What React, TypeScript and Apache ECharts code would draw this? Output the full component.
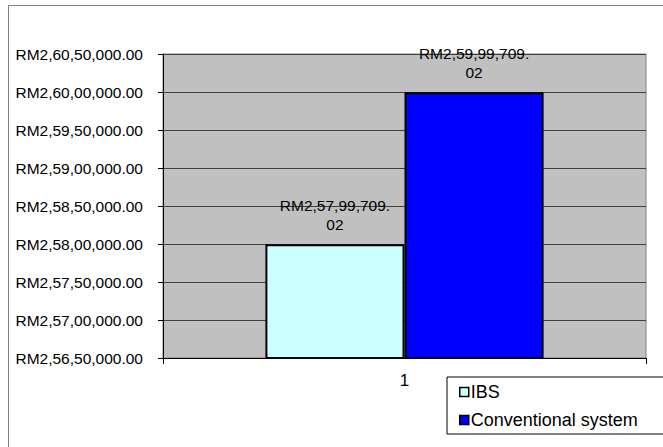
import React, { useEffect, useRef } from "react";
import * as echarts from "echarts";

const categories = ["1"];
const seriesNames = ["IBS", "Conventional system"];
const ibsValues = [25799709.02];
const conventionalValues = [25999709.02];
const yMin = 25650000;
const yMax = 26050000;
const yInterval = 50000;

function indianFormat(v: number): string {
  const fixed = v.toFixed(2);
  const [intPart, dec] = fixed.split(".");
  let out = "";
  if (intPart.length <= 3) {
    out = intPart;
  } else {
    const last3 = intPart.slice(-3);
    let rest = intPart.slice(0, -3);
    const groups: string[] = [];
    while (rest.length > 2) {
      groups.unshift(rest.slice(-2));
      rest = rest.slice(0, -2);
    }
    if (rest.length) groups.unshift(rest);
    out = groups.join(",") + "," + last3;
  }
  return "RM" + out + "." + dec;
}

function labelFormat(v: number): string {
  const s = indianFormat(v);
  const i = s.lastIndexOf(".");
  return s.slice(0, i + 1) + "\n" + s.slice(i + 1);
}

const FONT = "Liberation Sans, Arial, sans-serif";

export default function App() {
  const ref = useRef<HTMLDivElement>(null);
  useEffect(() => {
    if (!ref.current) return;
    const chart = echarts.init(ref.current, undefined, { renderer: "svg" });
    const labelCfg = {
      show: true,
      position: "top" as const,
      distance: 10,
      color: "#000",
      fontFamily: FONT,
      fontSize: 15.5,
      lineHeight: 19,
      align: "center" as const,
      formatter: (p: any) => labelFormat(p.value),
    };
    chart.setOption({
      animation: false,
      backgroundColor: "#fff",
      textStyle: { fontFamily: FONT },
      graphic: [
        {
          type: "rect",
          shape: { x: 8.5, y: 5.5, width: 800, height: 600 },
          style: { fill: "none", stroke: "#808080", lineWidth: 1 },
          z: -10,
          silent: true,
        },
      ],
      grid: {
        left: 163,
        right: 17,
        top: 54,
        bottom: 89,
        show: true,
        backgroundColor: "#C0C0C0",
        borderColor: "#808080",
        borderWidth: 1,
      },
      legend: {
        orient: "vertical",
        left: 447,
        top: 377,
        data: seriesNames,
        backgroundColor: "#fff",
        borderColor: "#000",
        borderWidth: 1,
        borderRadius: 0,
        padding: [6, 60, 5, 12],
        itemWidth: 9,
        itemHeight: 9,
        itemGap: 10,
        icon: "rect",
        itemStyle: { borderColor: "#000", borderWidth: 1.5 },
        textStyle: { fontFamily: FONT, fontSize: 18, color: "#000", padding: [0, 0, 0, -3] },
      },
      xAxis: {
        type: "category",
        data: categories,
        axisLine: { show: true, lineStyle: { color: "#000", width: 1 } },
        axisTick: { show: true, length: 6, alignWithLabel: false, lineStyle: { color: "#000" } },
        axisLabel: { color: "#000", fontFamily: FONT, fontSize: 17, margin: 14 },
        splitLine: { show: false },
      },
      yAxis: {
        type: "value",
        min: yMin,
        max: yMax,
        interval: yInterval,
        axisLine: { show: true, lineStyle: { color: "#000", width: 1 } },
        axisTick: { show: true, length: 5, lineStyle: { color: "#000" } },
        axisLabel: {
          color: "#000",
          fontFamily: FONT,
          fontSize: 15.5,
          margin: 20,
          formatter: (v: number) => indianFormat(v),
        },
        splitLine: { show: true, lineStyle: { color: "#404040", width: 1 } },
      },
      series: [
        {
          name: seriesNames[0],
          type: "bar",
          data: ibsValues,
          barGap: "0%",
          barCategoryGap: "42.4%",
          itemStyle: { color: "#CCFFFF", borderColor: "#000", borderWidth: 2 },
          label: labelCfg,
        },
        {
          name: seriesNames[1],
          type: "bar",
          data: conventionalValues,
          barGap: "0%",
          barCategoryGap: "42.4%",
          itemStyle: { color: "#0000FF", borderColor: "#000", borderWidth: 2 },
          label: labelCfg,
        },
      ],
    });
    return () => chart.dispose();
  }, []);
  return (
    <div
      ref={ref}
      style={{ position: "absolute", left: 0, top: 0, width: 663, height: 447 }}
    />
  );
}
